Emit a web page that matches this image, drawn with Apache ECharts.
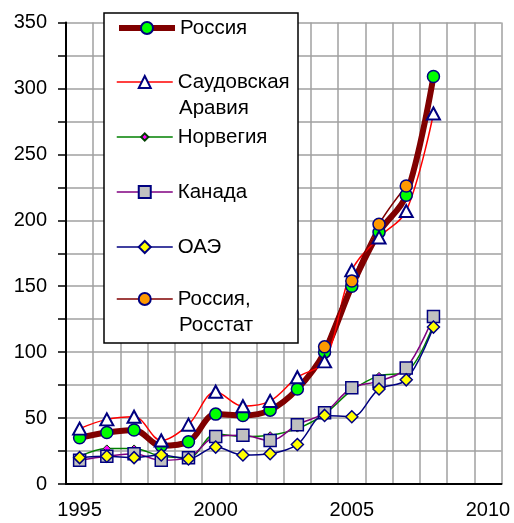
<!DOCTYPE html>
<html>
<head>
<meta charset="utf-8">
<script src="https://cdn.jsdelivr.net/npm/echarts@6/dist/echarts.min.js"></script>
<style>
  html, body { margin: 0; padding: 0; background: #fff; }
  #chart { width: 514px; height: 523px; }
</style>
</head>
<body>
<div id="chart"></div>
<script>
// годы (категории оси X)
const years = ['1995', '1996', '1997', '1998', '1999', '2000', '2001', '2002',
  '2003', '2004', '2005', '2006', '2007', '2008', '2009', '2010']

const russia = [35, 39, 41, 29, 32, 53, 52, 56, 72, 100, 150, 191, 219, 309]
const saudi = [42, 49, 51, 33, 45, 70, 59, 63, 81, 93, 162, 187, 207, 281]
const norway = [21, 27, 27, 21, 20, 38, 36, 37, 42, 53, 71, 82, 85, 121]
const canada = [18, 21, 23, 18, 20, 36, 37, 33, 45, 54, 73, 78, 88, 127]
const uae = [20, 21, 20, 22, 19, 28, 22, 23, 30, 52, 51, 72, 79, 119]
const rosstat = [null, null, null, null, null, null, null, null, null, 104, 154, 197, 226]

const font = 'Liberation Sans'
const fontSize = 20.5
const navy = '#000080'

const chart = echarts.init(document.getElementById('chart'))

// одна легенда на каждую строку, чтобы повторить расположение Excel
function legendAt (name, y, h, lw) {
  return {
    data: [name],
    left: 116,
    top: y - 11,
    padding: 0,
    itemWidth: 56,
    itemHeight: h,
    selectedMode: false,
    lineStyle: { width: lw },
    formatter: function (n) {
      return n.split(' ')[0]
    },
    textStyle: {
      fontFamily: font,
      fontSize: fontSize,
      color: '#000',
      lineHeight: 22
    }
  }
}
// вторая строка подписи легенды
function secondLine (text, y) {
  return {
    type: 'text',
    z: 5,
    x: 179,
    y: y,
    style: {
      text: text,
      fontFamily: font,
      fontSize: fontSize,
      fill: '#000',
      verticalAlign: 'middle'
    }
  }
}

const option = {
  animation: false,
  grid: {
    left: 66,
    right: 12.5,
    top: 22.5,
    bottom: 39
  },
  graphic: [
    {
      type: 'rect',
      z: 3,
      shape: { x: 104, y: 13, width: 194, height: 330 },
      style: { fill: '#fff', stroke: '#000', lineWidth: 1.5 }
    },
    secondLine('Аравия', 108),
    secondLine('Росстат', 325)
  ],
  legend: [
    legendAt('Россия', 28, 15, 6),
    legendAt('Саудовская Аравия', 82, 15, 1.5),
    legendAt('Норвегия', 137, 9, 1.5),
    legendAt('Канада', 192, 15, 1.5),
    legendAt('ОАЭ', 247, 15, 1.5),
    legendAt('Россия, Росстат', 299, 15, 1.5)
  ],
  xAxis: {
    type: 'category',
    data: years,
    boundaryGap: true,
    axisLine: { lineStyle: { color: '#000', width: 2 } },
    axisTick: { interval: 0, length: 8, lineStyle: { color: '#000', width: 1.5 } },
    axisLabel: {
      interval: 4,
      margin: 16,
      fontFamily: font,
      fontSize: 20,
      color: '#000'
    },
    splitLine: { show: true, interval: 0, lineStyle: { color: '#a0a0a0', width: 1.5 } }
  },
  yAxis: {
    type: 'value',
    min: 0,
    max: 350,
    interval: 25,
    axisLine: { show: true, lineStyle: { color: '#000', width: 2 } },
    axisTick: { show: true, length: 8, lineStyle: { color: '#000', width: 1.5 } },
    axisLabel: {
      margin: 19,
      fontFamily: font,
      fontSize: 20,
      color: '#000',
      formatter: function (v) {
        return v % 50 === 0 ? v : ''
      }
    },
    splitLine: { lineStyle: { color: '#a0a0a0', width: 1.5 } }
  },
  series: [
    {
      name: 'Россия',
      type: 'line',
      data: russia,
      smooth: 0.35,
      symbol: 'circle',
      symbolSize: 12,
      lineStyle: { color: '#800000', width: 6 },
      itemStyle: { color: '#00ff00', borderColor: navy, borderWidth: 1.5 }
    },
    {
      name: 'Саудовская Аравия',
      type: 'line',
      data: saudi,
      smooth: 0.35,
      symbol: 'triangle',
      symbolSize: [13, 12],
      lineStyle: { color: '#ff0000', width: 1.5 },
      itemStyle: { color: '#fff', borderColor: navy, borderWidth: 2 }
    },
    {
      name: 'Норвегия',
      type: 'line',
      data: norway,
      smooth: 0.35,
      symbol: 'diamond',
      symbolSize: 7,
      lineStyle: { color: '#008000', width: 1.5 },
      itemStyle: { color: '#ff00ff', borderColor: '#004000', borderWidth: 1 }
    },
    {
      name: 'Канада',
      type: 'line',
      data: canada,
      smooth: 0.35,
      symbol: 'rect',
      symbolSize: 12,
      lineStyle: { color: '#800080', width: 1.5 },
      itemStyle: { color: '#c0c0c0', borderColor: navy, borderWidth: 1.5 }
    },
    {
      name: 'ОАЭ',
      type: 'line',
      data: uae,
      smooth: 0.35,
      symbol: 'diamond',
      symbolSize: 12,
      lineStyle: { color: navy, width: 1.5 },
      itemStyle: { color: '#ffff00', borderColor: navy, borderWidth: 1.5 }
    },
    {
      name: 'Россия, Росстат',
      type: 'line',
      data: rosstat,
      smooth: 0.35,
      symbol: 'circle',
      symbolSize: 12,
      lineStyle: { color: '#800000', width: 1.5 },
      itemStyle: { color: '#ff9900', borderColor: navy, borderWidth: 1.5 }
    }
  ]
}

chart.setOption(option)
</script>
</body>
</html>
